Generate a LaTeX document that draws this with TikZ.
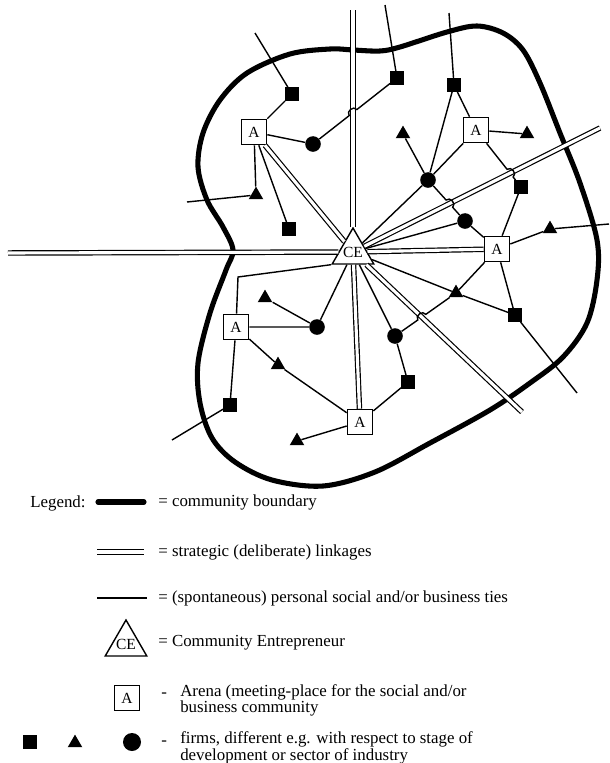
\documentclass[tikz,border=0pt]{standalone}
\usepackage{fontspec}
\setmainfont{Liberation Serif}
\usetikzlibrary{shapes.geometric,calc}

\tikzset{
  arena/.style={draw, fill=white, line width=1pt, minimum size=0.63cm, inner sep=0pt, font=\fontsize{11}{12}\selectfont},
  entre/.style={draw, fill=white, regular polygon, regular polygon sides=3, line width=1pt, minimum size=1.2cm, inner sep=0pt},
  sqfirm/.style={fill=black, minimum size=0.33cm, inner sep=0pt},
  trifirm/.style={fill=black, regular polygon, regular polygon sides=3, minimum size=0.42cm, inner sep=0pt},
  cirfirm/.style={fill=black, circle, minimum size=0.39cm, inner sep=0pt},
  boundary/.style={line width=3.6pt},
  strategic/.style={double, line width=0.85pt, double distance=2.2pt},
  tie/.style={line width=1pt},
  legtext/.style={anchor=base west, inner sep=0pt, font=\fontsize{12}{11}\selectfont},
}

\begin{document}
\begin{tikzpicture}[x=0.025cm, y=-0.025cm]
  \useasboundingbox (0,0) rectangle (610,763);

  % community boundary
  \draw[boundary] plot[smooth cycle, tension=0.55] coordinates {
    (220,100) (247,73) (290,54) (330,49) (353,50) (380,51) (400,47) (447,32)
    (477,26) (503,33) (523,50) (540,83) (560,133) (580,183) (597,240) (597,280)
    (587,323) (563,357) (530,383) (490,410) (430,443) (375,472) (323,486)
    (272,480) (235,462) (212,438) (200,403) (198,363) (210,313) (226,270)
    (233,250) (223,227) (207,200) (198,167) (203,133)};

  % entrepreneur and arenas
  \node[entre, label={[font=\fontsize{11}{12}\selectfont]center:CE}] (ce) at (353,252) {};
  \node[arena] (a1) at (254,132) {A};
  \node[arena] (a2) at (476,130) {A};
  \node[arena] (a3) at (497,249) {A};
  \node[arena] (a4) at (236,327) {A};
  \node[arena] (a5) at (360,422) {A};

  % firms
  \node[sqfirm] (s1) at (292,94) {};
  \node[sqfirm] (s2) at (397,78) {};
  \node[sqfirm] (s3) at (454,85) {};
  \node[sqfirm] (s4) at (521,187) {};
  \node[sqfirm] (s5) at (515,315) {};
  \node[sqfirm] (s6) at (408,382) {};
  \node[sqfirm] (s7) at (230,405) {};
  \node[sqfirm] (s8) at (289,229) {};
  \node[trifirm] (t1) at (256,195) {};
  \node[trifirm] (t2) at (403,134) {};
  \node[trifirm] (t3) at (527,134) {};
  \node[trifirm] (t4) at (550,229) {};
  \node[trifirm] (t5) at (456,293) {};
  \node[trifirm] (t6) at (265,298) {};
  \node[trifirm] (t7) at (278,365) {};
  \node[trifirm] (t8) at (297,441) {};
  \node[cirfirm] (c1) at (313,144) {};
  \node[cirfirm] (c2) at (428,180) {};
  \node[cirfirm] (c3) at (317,327) {};
  \node[cirfirm] (c4) at (465,221) {};
  \node[cirfirm] (c5) at (395,336) {};

  % loose ends
  \coordinate (dl) at (8,253);
  \coordinate (dt) at (353,10);
  \coordinate (dr) at (600,128);
  \coordinate (dd) at (522,412);
  \coordinate (e1) at (255,33);
  \coordinate (e2) at (385,5);
  \coordinate (e3) at (449,13);
  \coordinate (e4) at (609,224);
  \coordinate (e5) at (577,393);
  \coordinate (e6) at (172,440);
  \coordinate (e7) at (187,202);
  \coordinate (k1) at (238,277);

  % strategic linkages
  \draw[strategic] (ce) -- (dl);
  \draw[strategic] (ce) -- (a3);
  \draw[strategic] (ce) -- (dt);
  \draw[strategic] (ce) -- (a5);
  \draw[strategic] (ce) -- (a1);
  \draw[strategic] (ce) -- (dr);
  \draw[strategic] (ce) -- (dd);

  % crossings
  \coordinate (h1) at (intersection of c1--s2 and ce--dt);
  \coordinate (h2) at (intersection of c2--c4 and ce--dr);
  \coordinate (h3) at (intersection of a2--s4 and ce--dr);
  \coordinate (h4) at (intersection of t5--c5 and ce--dd);

  % personal ties
  \draw[tie] (e1) -- (s1) -- (a1) -- (c1);
  \draw[tie] (a1) -- (s8);
  \draw[tie] (a1) -- (t1) -- (e7);
  \draw[tie] (c1) -- ($(h1)!3.5pt!(c1)$) to[bend left=90, looseness=1.4] ($(h1)!3.5pt!(s2)$) -- (s2) -- (e2);
  \draw[tie] (e3) -- (s3) -- (a2) -- (t3);
  \draw[tie] (s3) -- (c2) -- (t2);
  \draw[tie] (c2) -- (a2);
  \draw[tie] (ce) -- (c2);
  \draw[tie] (c2) -- ($(h2)!3.5pt!(c2)$) to[bend left=90, looseness=1.4] ($(h2)!3.5pt!(c4)$) -- (c4);
  \draw[tie] (a2) -- ($(h3)!3.5pt!(a2)$) to[bend left=90, looseness=1.4] ($(h3)!3.5pt!(s4)$) -- (s4) -- (a3);
  \draw[tie] (ce) -- (c4) -- (a3);
  \draw[tie] (a3) -- (t4) -- (e4);
  \draw[tie] (ce) -- (t5) -- (s5) -- (e5);
  \draw[tie] (a3) -- (t5);
  \draw[tie] (a3) -- (s5);
  \draw[tie] (t5) -- ($(h4)!3.5pt!(t5)$) to[bend right=90, looseness=1.4] ($(h4)!3.5pt!(c5)$) -- (c5);
  \draw[tie] (ce) -- (c5) -- (s6) -- (a5) -- (t8);
  \draw[tie] (ce) -- (c3) -- (a4);
  \draw[tie] (t6) -- (c3);
  \draw[tie] (ce.corner 2) -- (k1) -- (a4);
  \draw[tie] (a4) -- (s7) -- (e6);
  \draw[tie] (a4) -- (t7) -- (a5);

  % legend
  \node[legtext] (leg) at (30,507) {Legend:};
  \draw[boundary, line cap=round] (98,502) -- (144,502);
  \node[legtext] (lbound) at (158,506) {= community boundary};
  \draw[strategic] (97,552) -- (144,552);
  \node[legtext] (lstrat) at (158,556) {= strategic (deliberate) linkages};
  \draw[tie] (97,598) -- (147,598);
  \node[legtext] (ltie) at (158,602) {= (spontaneous) personal social and/or business ties};
  \node[entre, label={[font=\fontsize{11}{12}\selectfont]center:CE}] (lce) at (126,644) {};
  \node[legtext] (lcetext) at (158,646) {= Community Entrepreneur};
  \node[arena] (la) at (127,698) {A};
  \node[legtext] (ldash1) at (161,697) {-};
  \node[legtext, align=left] (larena) at (180,712) {Arena (meeting-place for the social and/or\\business community};
  \node[sqfirm] (ls) at (30,742) {};
  \node[trifirm] (lt) at (75,743) {};
  \node[cirfirm, minimum size=0.45cm] (lc) at (132,742) {};
  \node[legtext] (ldash2) at (161,745) {-};
  \node[legtext, align=left] (lfirms) at (180,760) {firms, different e.g. with respect to stage of\\development or sector of industry};
\end{tikzpicture}
\end{document}
